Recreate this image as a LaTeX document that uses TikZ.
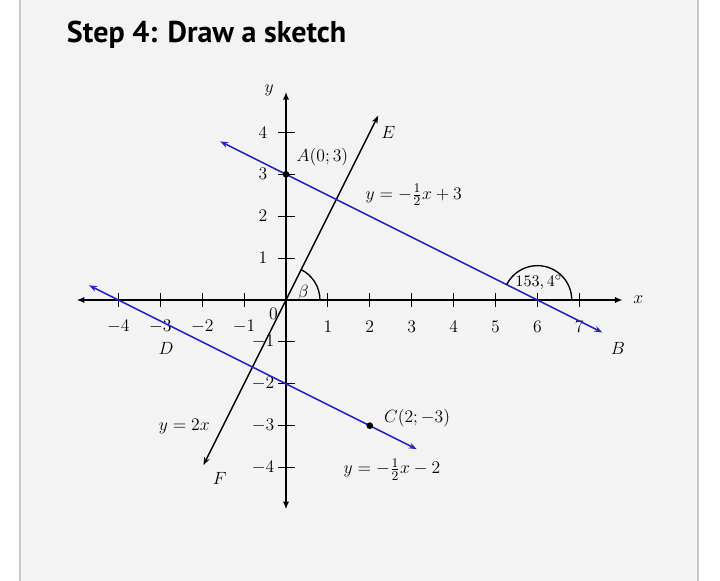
\documentclass[tikz,border=0pt]{standalone}
\usepackage{amsmath}
\usepackage{fontspec}
\newfontfamily\titlefont{PT Sans}
\usetikzlibrary{arrows.meta}
\definecolor{cardfill}{HTML}{F3F3F3}
\definecolor{cardline}{HTML}{C8C8C8}
\definecolor{lineblue}{HTML}{2424C8}

\begin{document}
\begin{tikzpicture}[font=\fontsize{12.5}{15}\selectfont,
  axis/.style={line width=1.2pt, {Latex[length=1.9mm,width=1.5mm]}-{Latex[length=1.9mm,width=1.5mm]}},
  blueline/.style={lineblue, line width=1.1pt, {Stealth[length=1.9mm,width=1.4mm]}-{Stealth[length=1.9mm,width=1.4mm]}},
  blackline/.style={line width=0.95pt, {Stealth[length=1.9mm,width=1.4mm]}-{Stealth[length=1.9mm,width=1.4mm]}},
  tick/.style={line width=0.7pt},
  dot/.style={circle, fill=black, inner sep=0pt, minimum size=1.6mm},
  lbl/.style={inner sep=1pt}]
  \useasboundingbox (-6.826,-6.706) rectangle (10.358,7.160);
  \fill[white] (-6.826,-6.706) rectangle (10.358,7.160);
  \draw[cardline, fill=cardfill, line width=0.8pt] (-6.348,-7) rectangle (9.833,7.5);

  \node[anchor=base west, inner sep=0pt, font=\titlefont\bfseries\fontsize{20.4}{24}\selectfont] (title) at (-5.234,6.134) {Step 4: Draw a sketch};

  \coordinate (xl) at (-5,0);
  \coordinate (xr) at (8.04,0);
  \coordinate (yb) at (0,-5);
  \coordinate (yt) at (0,4.97);
  \draw[axis] (xl) -- (xr);
  \draw[axis] (yb) -- (yt);
  \node[lbl] (xlab) at (8.41,0) {$x$};
  \node[lbl] (ylab) at (-0.40,5.01) {$y$};

  \foreach \x in {-4,-3,-2,-1,1,2,3,4,5,6,7} {
    \draw[tick] (\x,-0.17) -- (\x,0.17);
    \node[lbl] (tx\x) at (\x,-0.64) {$\x$};
  }
  \foreach \y in {-4,-3,-2,-1,1,2,3,4} {
    \draw[tick] (-0.19,\y) -- (0.21,\y);
    \node[lbl] (ty\y) at (-0.55,\y) {$\y$};
  }
  \node[lbl] (O) at (-0.30,-0.32) {$0$};

  \coordinate (A1) at (-1.57,3.785);
  \coordinate (B) at (7.55,-0.775);
  \coordinate (D) at (-4.7,0.35);
  \coordinate (C1) at (3.12,-3.56);
  \coordinate (F) at (-1.97,-3.94);
  \coordinate (E) at (2.2,4.4);

  \draw[blackline] (F) -- (E);
  \draw[blueline] (A1) -- (B);
  \draw[blueline] (D) -- (C1);

  \draw[line width=0.9pt] (0.81,0) arc[start angle=0, end angle=63.43, radius=0.81];
  \draw[line width=0.9pt] (6.82,0) arc[start angle=0, end angle=153.43, radius=0.82];

  \node[dot] (A) at (0,3) {};
  \node[dot] (C) at (2,-3) {};

  \node[lbl] (Alab) at (0.87,3.4) {$A(0;3)$};
  \node[lbl] (Clab) at (3.13,-2.83) {$C(2;-3)$};
  \node[lbl] (Elab) at (2.44,3.99) {$E$};
  \node[lbl] (Dlab) at (-2.86,-1.15) {$D$};
  \node[lbl] (Blab) at (7.92,-1.15) {$B$};
  \node[lbl] (Flab) at (-1.58,-4.26) {$F$};
  \node[lbl] (beta) at (0.41,0.17) {$\beta$};
  \node[lbl, font=\fontsize{11}{13}\selectfont] (ang) at (6.03,0.42) {$153,4^{\circ}$};
  \node[lbl] (eq1) at (3.05,2.51) {$y=-\frac{1}{2}x+3$};
  \node[lbl] (eq2) at (2.53,-4.04) {$y=-\frac{1}{2}x-2$};
  \node[lbl] (eq3) at (-2.43,-3.02) {$y=2x$};
\end{tikzpicture}
\end{document}
